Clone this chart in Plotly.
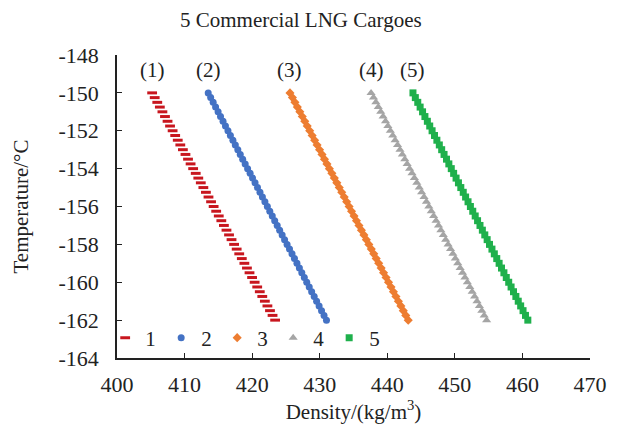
import plotly.graph_objects as go

temperature = [-150.0, -150.25, -150.5, -150.75, -151.0, -151.25, -151.5, -151.75,
               -152.0, -152.25, -152.5, -152.75, -153.0, -153.25, -153.5, -153.75,
               -154.0, -154.25, -154.5, -154.75, -155.0, -155.25, -155.5, -155.75,
               -156.0, -156.25, -156.5, -156.75, -157.0, -157.25, -157.5, -157.75,
               -158.0, -158.25, -158.5, -158.75, -159.0, -159.25, -159.5, -159.75,
               -160.0, -160.25, -160.5, -160.75, -161.0, -161.25, -161.5, -161.75,
               -162.0]

density_1 = [405.20, 405.58, 405.96, 406.34, 406.72, 407.10, 407.48, 407.85, 408.23, 408.61,
             408.99, 409.37, 409.75, 410.13, 410.51, 410.89, 411.27, 411.65, 412.03, 412.40,
             412.78, 413.16, 413.54, 413.92, 414.30, 414.68, 415.06, 415.44, 415.82, 416.20,
             416.58, 416.95, 417.33, 417.71, 418.09, 418.47, 418.85, 419.23, 419.61, 419.99,
             420.37, 420.75, 421.13, 421.50, 421.88, 422.26, 422.64, 423.02, 423.40]

density_2 = [413.50, 413.86, 414.23, 414.59, 414.96, 415.32, 415.69, 416.05, 416.42, 416.78,
             417.15, 417.51, 417.88, 418.24, 418.60, 418.97, 419.33, 419.70, 420.06, 420.43,
             420.79, 421.16, 421.52, 421.89, 422.25, 422.61, 422.98, 423.34, 423.71, 424.07,
             424.44, 424.80, 425.17, 425.53, 425.90, 426.26, 426.63, 426.99, 427.35, 427.72,
             428.08, 428.45, 428.81, 429.18, 429.54, 429.91, 430.27, 430.64, 431.00]

density_3 = [425.60, 425.96, 426.33, 426.69, 427.06, 427.42, 427.79, 428.15, 428.52, 428.88,
             429.25, 429.61, 429.98, 430.34, 430.70, 431.07, 431.43, 431.80, 432.16, 432.53,
             432.89, 433.26, 433.62, 433.99, 434.35, 434.71, 435.08, 435.44, 435.81, 436.17,
             436.54, 436.90, 437.27, 437.63, 438.00, 438.36, 438.73, 439.09, 439.45, 439.82,
             440.18, 440.55, 440.91, 441.28, 441.64, 442.01, 442.37, 442.74, 443.10]

density_4 = [437.60, 437.96, 438.31, 438.67, 439.03, 439.38, 439.74, 440.09, 440.45, 440.81,
             441.16, 441.52, 441.88, 442.23, 442.59, 442.94, 443.30, 443.66, 444.01, 444.37,
             444.73, 445.08, 445.44, 445.79, 446.15, 446.51, 446.86, 447.22, 447.58, 447.93,
             448.29, 448.64, 449.00, 449.36, 449.71, 450.07, 450.43, 450.78, 451.14, 451.49,
             451.85, 452.21, 452.56, 452.92, 453.28, 453.63, 453.99, 454.34, 454.70]

density_5 = [443.80, 444.15, 444.51, 444.86, 445.22, 445.57, 445.93, 446.28, 446.63, 446.99,
             447.34, 447.70, 448.05, 448.40, 448.76, 449.11, 449.47, 449.82, 450.18, 450.53,
             450.88, 451.24, 451.59, 451.95, 452.30, 452.65, 453.01, 453.36, 453.72, 454.07,
             454.43, 454.78, 455.13, 455.49, 455.84, 456.20, 456.55, 456.90, 457.26, 457.61,
             457.97, 458.32, 458.68, 459.03, 459.38, 459.74, 460.09, 460.45, 460.80]

series_names = ["1", "2", "3", "4", "5"]
curve_labels = ["(1)", "(2)", "(3)", "(4)", "(5)"]
x_ticks = [400, 410, 420, 430, 440, 450, 460, 470]
y_ticks = [-148, -150, -152, -154, -156, -158, -160, -162, -164]
y_tick_text = ["-148", "-150", "-152", "-154", "-156", "-158", "-160", "-162", "-164"]

densities = [density_1, density_2, density_3, density_4, density_5]
colors = ["#C8161E", "#4472C4", "#ED7D31", "#A5A5A5", "#1FB04C"]
symbols = ["line-ew", "circle", "diamond", "triangle-up", "square"]
sizes = [7, 7, 7, 8, 7]

FONT = "Liberation Serif"
TXT = "#222222"

fig = go.Figure()
for name, dens, col, sym, sz in zip(series_names, densities, colors, symbols, sizes):
    marker = dict(symbol=sym, size=sz, color=col, line=dict(width=0))
    if sym == "line-ew":
        marker = dict(symbol=sym, size=sz, color=col, line=dict(width=3, color=col))
    fig.add_trace(go.Scatter(x=dens, y=temperature, mode="markers", name=name,
                             marker=marker, showlegend=True))

for lab, dens in zip(curve_labels, densities):
    fig.add_annotation(x=dens[0], y=-148.8, text=lab, showarrow=False,
                       font=dict(family=FONT, size=21, color=TXT))

fig.update_layout(
    width=619, height=442,
    margin=dict(l=117, r=22, t=55, b=84),
    paper_bgcolor="white", plot_bgcolor="white",
    title=dict(text="5 Commercial LNG Cargoes", x=0.486, xanchor="center",
               y=0.955, yanchor="middle",
               font=dict(family=FONT, size=21, color=TXT)),
    font=dict(family=FONT, size=21, color=TXT),
    legend=dict(orientation="h", x=-0.025, xanchor="left", y=0.066, yanchor="middle",
                bgcolor="rgba(0,0,0,0)", font=dict(family=FONT, size=21, color=TXT),
                entrywidth=11, entrywidthmode="pixels", itemwidth=30),
    showlegend=True,
)
fig.update_xaxes(range=[400, 470], tickvals=x_ticks, ticks="inside", ticklen=5,
                 tickcolor=TXT, showline=True, linecolor=TXT, linewidth=1.5,
                 showgrid=False, zeroline=False, ticklabelstandoff=6,
                 tickfont=dict(family=FONT, size=22, color=TXT),
                 title=dict(text="Density/(kg/m<sup>3</sup>)", standoff=0,
                            font=dict(family=FONT, size=21, color=TXT)))
fig.update_yaxes(range=[-164, -148], tickvals=y_ticks, ticktext=y_tick_text,
                 ticks="inside", ticklen=5,
                 tickcolor=TXT, showline=True, linecolor=TXT, linewidth=1.5,
                 showgrid=False, zeroline=False, ticklabelstandoff=12,
                 tickfont=dict(family=FONT, size=22, color=TXT),
                 title=dict(text="Temperature/°C", standoff=24,
                            font=dict(family=FONT, size=21, color=TXT)))

fig.write_html("out.html", config={"displayModeBar": False},
               post_script="document.body.style.margin='0px';")
